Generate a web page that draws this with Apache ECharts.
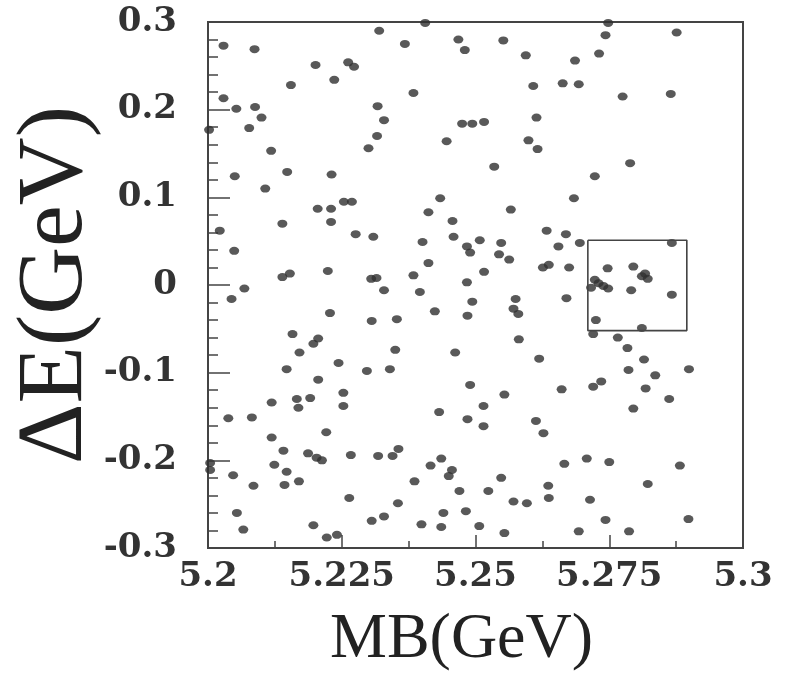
<!DOCTYPE html>
<html>
<head>
<meta charset="utf-8">
<script src="https://cdn.jsdelivr.net/npm/echarts@6/dist/echarts.min.js"></script>
<style>html,body{margin:0;padding:0;background:#fff}#c{width:789px;height:682px}</style>
</head>
<body>
<div id="c"></div>
<script>
// MB (GeV) values of the candidate events
const mbValues = [
5.2320,5.2029,5.2087,5.2201,5.2262,5.2273,5.2236,5.2155,5.2029,5.2053,5.2088,5.2317,5.2100,5.2329,5.2002,5.2077,5.2316,5.2118,5.2300,5.2050,
5.2148,5.2231,5.2107,5.2406,5.2368,5.2468,5.2480,5.2552,5.2594,5.2686,5.2384,5.2608,5.2663,5.2693,5.2475,5.2494,5.2516,5.2614,5.2446,5.2599,
5.2616,5.2535,5.2748,5.2743,5.2876,5.2731,5.2775,5.2865,5.2789,5.2723,5.2254,5.2269,5.2205,5.2230,5.2139,5.2230,5.2022,5.2276,5.2309,5.2049,
5.2224,5.2139,5.2153,5.2305,5.2315,5.2068,5.2329,5.2044,5.2228,5.2306,5.2158,5.2206,5.2197,5.2171,5.2244,5.2147,5.2297,5.2340,5.2434,5.2684,
5.2412,5.2566,5.2457,5.2633,5.2669,5.2401,5.2459,5.2508,5.2548,5.2484,5.2490,5.2655,5.2695,5.2544,5.2563,5.2412,5.2626,5.2637,5.2675,5.2516,
5.2384,5.2484,5.2396,5.2494,5.2575,5.2670,5.2571,5.2580,5.2424,5.2485,5.2353,5.2581,5.2350,5.2462,5.2619,5.2867,5.2747,5.2795,5.2811,5.2822,
5.2817,5.2723,5.2730,5.2739,5.2748,5.2716,5.2791,5.2867,5.2725,5.2811,5.2720,5.2766,5.2784,5.2815,5.2786,5.2899,5.2836,5.2206,5.2253,5.2166,
5.2191,5.2119,5.2169,5.2253,5.2038,5.2082,5.2119,5.2221,5.2141,5.2187,5.2203,5.2213,5.2267,5.2318,5.2004,5.2004,5.2124,5.2147,5.2047,5.2085,
5.2143,5.2170,5.2264,5.2054,5.2306,5.2329,5.2066,5.2197,5.2222,5.2241,5.2490,5.2554,5.2661,5.2515,5.2432,5.2485,5.2515,5.2613,5.2627,5.2356,
5.2345,5.2436,5.2416,5.2456,5.2450,5.2666,5.2386,5.2548,5.2636,5.2470,5.2524,5.2571,5.2596,5.2637,5.2355,5.2440,5.2482,5.2399,5.2436,5.2507,
5.2554,5.2693,5.2735,5.2720,5.2818,5.2862,5.2795,5.2708,5.2750,5.2882,5.2822,5.2714,5.2743,5.2898,5.2787
];
// ΔE (GeV) values, same order
const deValues = [
0.290,0.273,0.269,0.251,0.254,0.249,0.234,0.228,0.213,0.201,0.203,0.204,0.191,0.188,0.177,0.179,0.170,0.153,0.156,0.124,
0.129,0.126,0.110,0.299,0.275,0.280,0.268,0.279,0.262,0.256,0.219,0.227,0.230,0.229,0.184,0.184,0.186,0.191,0.164,0.165,
0.155,0.135,0.299,0.285,0.288,0.264,0.215,0.218,0.139,0.124,0.095,0.095,0.087,0.087,0.070,0.072,0.062,0.058,0.055,0.039,
0.016,0.009,0.013,0.007,0.008,-0.004,-0.006,-0.016,-0.032,-0.041,-0.056,-0.061,-0.067,-0.077,-0.089,-0.096,-0.098,-0.096,0.099,0.099,
0.083,0.086,0.073,0.062,0.058,0.049,0.055,0.051,0.048,0.044,0.037,0.044,0.048,0.035,0.029,0.025,0.020,0.023,0.020,0.015,
0.011,0.003,-0.008,-0.019,-0.016,-0.015,-0.027,-0.033,-0.030,-0.035,-0.039,-0.062,-0.074,-0.077,-0.084,0.048,0.019,0.021,0.010,0.007,
0.013,0.006,0.002,-0.001,-0.004,-0.003,-0.006,-0.011,-0.040,-0.049,-0.056,-0.060,-0.072,-0.085,-0.097,-0.096,-0.103,-0.108,-0.123,-0.130,
-0.129,-0.134,-0.140,-0.138,-0.152,-0.151,-0.174,-0.168,-0.189,-0.192,-0.197,-0.200,-0.194,-0.195,-0.203,-0.211,-0.205,-0.213,-0.217,-0.229,
-0.228,-0.224,-0.243,-0.260,-0.269,-0.264,-0.279,-0.274,-0.288,-0.285,-0.114,-0.125,-0.119,-0.138,-0.145,-0.153,-0.161,-0.155,-0.169,-0.187,
-0.195,-0.198,-0.206,-0.211,-0.218,-0.204,-0.224,-0.220,-0.229,-0.235,-0.235,-0.247,-0.249,-0.243,-0.249,-0.260,-0.258,-0.273,-0.276,-0.275,
-0.283,-0.281,-0.110,-0.116,-0.118,-0.130,-0.141,-0.198,-0.202,-0.206,-0.227,-0.245,-0.268,-0.267,-0.281
];
// signal box edges
const boxX = [5.271, 5.2895];
const boxY = [-0.052, 0.051];
// axis ranges / tick steps
const xRange = [5.2, 5.3], xStep = 0.025;
const yRange = [-0.3, 0.3], yStep = 0.1;

const points = mbValues.map((m, i) => [m, deValues[i]]);
const boxPath = [[boxX[0], boxY[1]], [boxX[1], boxY[1]], [boxX[1], boxY[0]], [boxX[0], boxY[0]], [boxX[0], boxY[1]]];

const tickFont = { fontFamily: 'DejaVu Serif', fontWeight: 'bold', fontSize: 34, color: '#333' };
const chart = echarts.init(document.getElementById('c'));
chart.setOption({
  animation: false,
  backgroundColor: '#fff',
  grid: { left: 208, top: 22, right: 46, bottom: 134, containLabel: false, outerBoundsMode: 'none',
          show: true, borderColor: '#444', borderWidth: 2, backgroundColor: 'transparent' },
  xAxis: {
    type: 'value', min: xRange[0], max: xRange[1], interval: xStep,
    name: 'MB(GeV)', nameLocation: 'middle', nameGap: 60, nameMoveOverlap: false,
    nameTextStyle: { fontFamily: 'Liberation Serif', fontSize: 64, color: '#222', lineHeight: 64, padding: [0, 28, 0, 0] },
    axisLine: { show: true, onZero: false, lineStyle: { color: '#444', width: 2 } },
    axisTick: { show: true, inside: true, length: 13, lineStyle: { color: '#444', width: 1.5 } },
    minorTick: { show: true, splitNumber: 2, length: 7, lineStyle: { color: '#444', width: 1.5 } },
    splitLine: { show: false },
    axisLabel: Object.assign({ margin: 12, formatter: v => String(parseFloat(v.toFixed(4))) }, tickFont)
  },
  yAxis: {
    type: 'value', min: yRange[0], max: yRange[1], interval: yStep,
    name: 'ΔE(GeV)', nameLocation: 'middle', nameGap: 105, nameMoveOverlap: false,
    nameTextStyle: { fontFamily: 'Liberation Serif', fontSize: 94, color: '#222', lineHeight: 94 },
    axisLine: { show: true, onZero: false, lineStyle: { color: '#444', width: 2 } },
    axisTick: { show: true, inside: true, length: 22, lineStyle: { color: '#444', width: 1.5 } },
    minorTick: { show: true, splitNumber: 5, length: 10, lineStyle: { color: '#444', width: 1.5 } },
    splitLine: { show: false },
    axisLabel: Object.assign({ margin: 31, formatter: v => String(parseFloat(v.toFixed(3))) }, tickFont)
  },
  series: [
    { type: 'scatter', data: points, symbol: 'circle', symbolSize: [10, 8], clip: false,
      itemStyle: { color: '#2f2f2f' } },
    { type: 'line', data: boxPath, symbol: 'none', lineStyle: { color: '#444', width: 1.6 }, silent: true }
  ]
});
</script>
</body>
</html>
